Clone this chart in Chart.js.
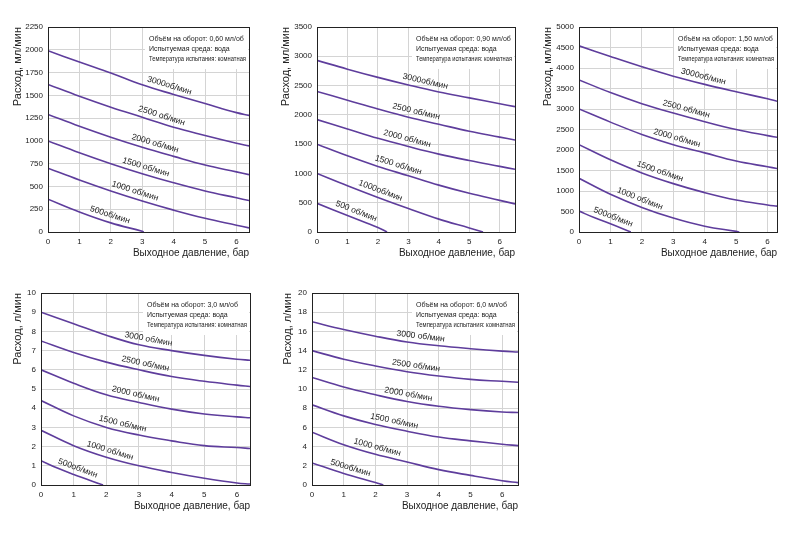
<!DOCTYPE html>
<html>
<head>
<meta charset="utf-8">
<script src="https://cdn.jsdelivr.net/npm/chart.js@4.4.1/dist/chart.umd.min.js"></script>
<style>
  body { margin: 0; background: #fff; }
  #wrap { position: relative; width: 800px; height: 533px; overflow: hidden; }
  .box { position: absolute; }
</style>
</head>
<body>
<div id="wrap">
  <div class="box" style="left:0;top:0;width:262px;height:262px"><canvas id="c1"></canvas></div>
  <div class="box" style="left:265px;top:0;width:265px;height:262px"><canvas id="c2"></canvas></div>
  <div class="box" style="left:530px;top:0;width:270px;height:262px"><canvas id="c3"></canvas></div>
  <div class="box" style="left:0;top:280px;width:262px;height:235px"><canvas id="c4"></canvas></div>
  <div class="box" style="left:265px;top:280px;width:265px;height:235px"><canvas id="c5"></canvas></div>
</div>
<script>
// Расходные характеристики насосов, по объёму на оборот

// 0,60 мл/об
const p1 = [0, 1, 2, 3, 4, 5, 6, 6.4];
const q1_3000 = [1990, 1865, 1745, 1615, 1510, 1410, 1310, 1280];
const q1_2500 = [1620, 1490, 1370, 1260, 1150, 1060, 975, 945];
const q1_2000 = [1290, 1160, 1040, 930, 830, 735, 660, 630];
const q1_1500 = [1000, 870, 750, 640, 540, 450, 375, 345];
const q1_1000 = [700, 570, 450, 340, 240, 150, 75, 45];
const p1_500 = [0, 1, 2, 3, 3.05];
const q1_500 = [360, 220, 100, 8, 0];
const labels1 = ['3000об/мин', '2500 об/мин', '2000 об/мин', '1500 об/мин', '1000 об/мин', '500об/мин'];
const labelAt1 = [3.8, 3.55, 3.35, 3.05, 2.7, 1.9];

// 0,90 мл/об
const p2 = [0, 1, 2, 3, 4, 5, 6, 6.5];
const q2_3000 = [2930, 2780, 2640, 2510, 2390, 2290, 2190, 2140];
const q2_2500 = [2400, 2250, 2100, 1960, 1840, 1720, 1620, 1570];
const q2_2000 = [1920, 1760, 1600, 1460, 1330, 1220, 1120, 1070];
const q2_1500 = [1500, 1300, 1120, 960, 800, 660, 540, 480];
const p2_1000 = [0, 1, 2, 3, 4, 5, 5.45];
const q2_1000 = [1000, 790, 590, 400, 220, 70, 0];
const p2_500 = [0, 1, 2, 2.3];
const q2_500 = [490, 280, 75, 0];
const labels2 = ['3000об/мин', '2500 об/мин', '2000 об/мин', '1500 об/мин', '1000об/мин', '500 об/мин'];
const labelAt2 = [3.5, 3.2, 2.9, 2.6, 2.0, 1.2];

// 1,50 мл/об
const p3 = [0, 1, 2, 3, 4, 5, 6, 6.3];
const q3_3000 = [4540, 4280, 4030, 3800, 3600, 3420, 3250, 3190];
const q3_2500 = [3710, 3400, 3130, 2900, 2690, 2500, 2350, 2310];
const q3_2000 = [3000, 2680, 2380, 2130, 1930, 1730, 1590, 1550];
const q3_1500 = [2130, 1760, 1440, 1180, 960, 780, 660, 630];
const p3_1000 = [0, 1, 2, 3, 4, 5, 5.1];
const q3_1000 = [1310, 920, 600, 340, 140, 15, 0];
const p3_500 = [0, 0.5, 1, 1.65];
const q3_500 = [510, 345, 200, 0];
const labels3 = ['3000об/мин', '2500 об/мин', '2000 об/мин', '1500 об/мин', '1000 об/мин', '500об/мин'];
const labelAt3 = [3.9, 3.35, 3.05, 2.5, 1.85, 1.0];

// 3,0 мл/об
const p4 = [0, 1, 2, 3, 4, 5, 6, 6.4];
const q4_3000 = [9.0, 8.4, 7.8, 7.3, 7.0, 6.75, 6.55, 6.5];
const q4_2500 = [7.5, 6.9, 6.4, 6.0, 5.65, 5.4, 5.2, 5.13];
const q4_2000 = [6.0, 5.3, 4.7, 4.3, 3.95, 3.7, 3.55, 3.5];
const q4_1500 = [4.4, 3.6, 3.0, 2.6, 2.3, 2.05, 1.95, 1.9];
const q4_1000 = [2.85, 2.05, 1.45, 1.0, 0.65, 0.35, 0.1, 0.05];
const p4_500 = [0, 0.5, 1, 1.9];
const q4_500 = [1.27, 0.88, 0.55, 0];
const labels4 = ['3000 об/мин', '2500 об/мин', '2000 об/мин', '1500 об/мин', '1000 об/мин', '500об/мин'];
const labelAt4 = [3.25, 3.15, 2.85, 2.45, 2.05, 1.05];

// 6,0 мл/об
const p5 = [0, 1, 2, 3, 4, 5, 6, 6.5];
const q5_3000 = [17, 16.2, 15.5, 14.9, 14.5, 14.2, 13.95, 13.85];
const q5_2500 = [14, 13.1, 12.4, 11.8, 11.35, 11.0, 10.8, 10.7];
const q5_2000 = [11.2, 10.2, 9.4, 8.7, 8.2, 7.85, 7.6, 7.55];
const q5_1500 = [8.35, 7.2, 6.3, 5.6, 5.0, 4.6, 4.25, 4.1];
const q5_1000 = [5.5, 4.2, 3.2, 2.4, 1.6, 1.0, 0.45, 0.25];
const p5_500 = [0, 1, 2, 2.25];
const q5_500 = [2.3, 1.2, 0.25, 0];
const labels5 = ['3000 об/мин', '2500 об/мин', '2000 об/мин', '1500 об/мин', '1000 об/мин', '500об/мин'];
const labelAt5 = [3.4, 3.25, 3.0, 2.55, 2.0, 1.15];

const infoMedium = 'Испытуемая среда: вода';
const infoTemp = 'Температура испытания: комнатная';

const FONT = "'Liberation Sans', Arial, sans-serif";
const LINE = '#5e3d9c';

function pts(xs, ys) {
    return xs.map((x, i) => ({ x: x, y: ys[i] }));
}

// значение кривой в точке x (линейно между точками)
function valueAt(data, x) {
    for (let i = 0; i < data.length - 1; i++) {
        if (x >= data[i].x && x <= data[i + 1].x) {
            const t = (x - data[i].x) / (data[i + 1].x - data[i].x);
            return data[i].y + t * (data[i + 1].y - data[i].y);
        }
    }
    return data[data.length - 1].y;
}

// белая плашка с подписью в правом верхнем углу + рамка
const infoBox = {
    id: 'infoBox',
    beforeDatasetsDraw(chart, args, opts) {
        const a = chart.chartArea;
        const ctx = chart.ctx;
        ctx.save();
        ctx.fillStyle = '#fff';
        ctx.fillRect(a.right - opts.width - 4, a.top + 1, opts.width + 3, 41);
        ctx.fillStyle = '#222';
        ctx.font = '7px ' + FONT;
        ctx.textBaseline = 'middle';
        opts.lines.forEach((t, i) => {
            ctx.fillText(t, a.right - opts.width, a.top + 12 + i * 10, opts.width - 3);
        });
        ctx.restore();
    },
    afterDraw(chart) {
        const a = chart.chartArea;
        const ctx = chart.ctx;
        ctx.save();
        ctx.strokeStyle = '#222';
        ctx.lineWidth = 1;
        ctx.strokeRect(Math.round(a.left) + 0.5, Math.round(a.top) + 0.5,
            Math.round(a.right - a.left), Math.round(a.bottom - a.top));
        ctx.restore();
    }
};

// подписи оборотов вдоль кривых
const curveLabels = {
    id: 'curveLabels',
    afterDatasetsDraw(chart, args, opts) {
        const ctx = chart.ctx;
        const xs = chart.scales.x, ys = chart.scales.y;
        ctx.save();
        ctx.fillStyle = '#222';
        ctx.font = '8.5px ' + FONT;
        ctx.textAlign = 'center';
        ctx.textBaseline = 'bottom';
        chart.data.datasets.forEach((ds, i) => {
            const x = opts.at[i];
            const d = ds.data;
            const x0 = Math.max(d[0].x, x - 0.3), x1 = Math.min(d[d.length - 1].x, x + 0.3);
            const px = xs.getPixelForValue(x), py = ys.getPixelForValue(valueAt(d, x));
            const ang = Math.atan2(ys.getPixelForValue(valueAt(d, x1)) - ys.getPixelForValue(valueAt(d, x0)),
                xs.getPixelForValue(x1) - xs.getPixelForValue(x0));
            ctx.save();
            ctx.translate(px, py);
            ctx.rotate(ang);
            ctx.fillText(opts.texts[i], 0, -3);
            ctx.restore();
        });
        ctx.restore();
    }
};

function makeChart(id, cfg) {
    const datasets = cfg.series.map(s => ({
        data: pts(s[0], s[1]),
        borderColor: LINE,
        borderWidth: 1.6,
        pointRadius: 0,
        fill: false,
        tension: 0.4
    }));
    return new Chart(document.getElementById(id), {
        type: 'line',
        data: { datasets: datasets },
        plugins: [infoBox, curveLabels],
        options: {
            responsive: true,
            maintainAspectRatio: false,
            animation: false,
            layout: { padding: cfg.padding },
            plugins: {
                legend: { display: false },
                tooltip: { enabled: false },
                infoBox: { lines: cfg.info, width: cfg.infoWidth },
                curveLabels: { texts: cfg.texts, at: cfg.at }
            },
            scales: {
                x: {
                    type: 'linear',
                    min: 0,
                    max: cfg.xMax,
                    ticks: { stepSize: 1, includeBounds: false, padding: 5, color: '#222', font: { family: FONT, size: 8 } },
                    grid: { color: '#d4d4d4', drawTicks: false },
                    border: { color: '#222' },
                    title: { display: true, text: 'Выходное давление, бар', align: 'end', color: '#222', font: { family: FONT, size: 10 }, padding: { top: 0, bottom: 3 } },
                    afterFit: s => { s.height = cfg.xHeight; }
                },
                y: {
                    min: 0,
                    max: cfg.yMax,
                    ticks: { stepSize: cfg.yStep, padding: 5, color: '#222', font: { family: FONT, size: 8 },
                        callback: v => String(v) },
                    grid: { color: '#d4d4d4', drawTicks: false },
                    border: { color: '#222' },
                    title: { display: true, text: cfg.yTitle, align: 'end', color: '#222', font: { family: FONT, size: 11 }, padding: { top: 4, bottom: 0 } },
                    afterFit: s => { s.width = cfg.yWidth; }
                }
            }
        }
    });
}

makeChart('c1', {
    series: [[p1, q1_3000], [p1, q1_2500], [p1, q1_2000], [p1, q1_1500], [p1, q1_1000], [p1_500, q1_500]],
    texts: labels1, at: labelAt1,
    info: ['Объём на оборот: 0,60 мл/об', infoMedium, infoTemp], infoWidth: 100,
    xMax: 6.4, yMax: 2250, yStep: 250, yTitle: 'Расход, мл/мин',
    padding: { left: 7, top: 27, right: 13, bottom: 0 }, yWidth: 41, xHeight: 30
});
makeChart('c2', {
    series: [[p2, q2_3000], [p2, q2_2500], [p2, q2_2000], [p2, q2_1500], [p2_1000, q2_1000], [p2_500, q2_500]],
    texts: labels2, at: labelAt2,
    info: ['Объём на оборот: 0,90 мл/об', infoMedium, infoTemp], infoWidth: 99,
    xMax: 6.5, yMax: 3500, yStep: 500, yTitle: 'Расход, мл/мин',
    padding: { left: 10, top: 27, right: 15, bottom: 0 }, yWidth: 42, xHeight: 30
});
makeChart('c3', {
    series: [[p3, q3_3000], [p3, q3_2500], [p3, q3_2000], [p3, q3_1500], [p3_1000, q3_1000], [p3_500, q3_500]],
    texts: labels3, at: labelAt3,
    info: ['Объём на оборот: 1,50 мл/об', infoMedium, infoTemp], infoWidth: 99,
    xMax: 6.3, yMax: 5000, yStep: 500, yTitle: 'Расход, мл/мин',
    padding: { left: 7, top: 27, right: 23, bottom: 0 }, yWidth: 42, xHeight: 30
});
makeChart('c4', {
    series: [[p4, q4_3000], [p4, q4_2500], [p4, q4_2000], [p4, q4_1500], [p4, q4_1000], [p4_500, q4_500]],
    texts: labels4, at: labelAt4,
    info: ['Объём на оборот: 3,0 мл/об', infoMedium, infoTemp], infoWidth: 103,
    xMax: 6.4, yMax: 10, yStep: 1, yTitle: 'Расход, л/мин',
    padding: { left: 7, top: 13, right: 12, bottom: 0 }, yWidth: 34, xHeight: 30
});
makeChart('c5', {
    series: [[p5, q5_3000], [p5, q5_2500], [p5, q5_2000], [p5, q5_1500], [p5, q5_1000], [p5_500, q5_500]],
    texts: labels5, at: labelAt5,
    info: ['Объём на оборот: 6,0 мл/об', infoMedium, infoTemp], infoWidth: 102,
    xMax: 6.5, yMax: 20, yStep: 2, yTitle: 'Расход, л/мин',
    padding: { left: 12, top: 13, right: 12, bottom: 0 }, yWidth: 35, xHeight: 30
});
</script>
</body>
</html>
